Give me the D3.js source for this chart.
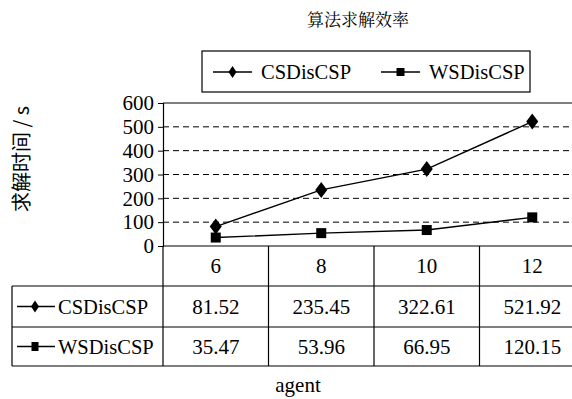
<!DOCTYPE html>
<html><head><meta charset="utf-8">
<script src="https://cdn.jsdelivr.net/npm/d3@7"></script>
<style>body{margin:0;background:#fff}svg{display:block}</style>
</head><body>
<svg id="c" width="572" height="399"></svg>
<script>
const categories = ["6", "8", "10", "12"];
const seriesNames = ["CSDisCSP", "WSDisCSP"];
const csValues = [81.52, 235.45, 322.61, 521.92];
const wsValues = [35.47, 53.96, 66.95, 120.15];
const yTicks = [0, 100, 200, 300, 400, 500, 600];
const titleText = "算法求解效率";
const yLabel = "求解时间 / s";
const xLabel = "agent";

const SERIF = '"Liberation Serif"';
const CJK_SERIF = '"Noto Serif CJK SC"';
const CJK_SANS = '"Noto Sans CJK SC"';
const svg = d3.select("#c");
const sf = (sel, size) => sel.style("font-family", SERIF).style("font-size", size + "px").attr("fill", "#000");

const L = 163, R = 585, T = 103, B = 246;
const x = d3.scaleBand().domain(categories).range([L, R]);
const y = d3.scaleLinear().domain([0, 600]).range([B, T]);

// gridlines
svg.append("g").selectAll("line").data(yTicks.filter(d => d > 0 && d < 600)).join("line")
  .attr("x1", L).attr("x2", 572).attr("y1", d => y(d)).attr("y2", d => y(d))
  .attr("stroke", "#000").attr("stroke-width", 1).attr("stroke-dasharray", "6,4");
// top border
svg.append("line").attr("x1", L).attr("x2", 572).attr("y1", y(600)).attr("y2", y(600)).attr("stroke", "#000").attr("stroke-width", 1.2);

// y axis
const yAxis = svg.append("g").attr("transform", `translate(${L},0)`)
  .call(d3.axisLeft(y).tickValues(yTicks).tickSize(5).tickPadding(4).tickFormat(d3.format("d")));
yAxis.select(".domain").attr("stroke", "#000").attr("stroke-width", 1.2);
sf(yAxis.selectAll("text"), 21);

// series
const series = [
  {name: seriesNames[0], values: csValues, shape: "diamond"},
  {name: seriesNames[1], values: wsValues, shape: "square"}
];
const cx = c => x(c) + x.bandwidth() / 2;
function marker(g, shape, px, py) {
  if (shape === "diamond") {
    g.append("path").attr("d", `M${px},${py-8}L${px+6},${py}L${px},${py+8}L${px-6},${py}Z`).attr("fill", "#000");
  } else {
    g.append("rect").attr("x", px - 5).attr("y", py - 5).attr("width", 10).attr("height", 10).attr("fill", "#000");
  }
}
const line = d3.line().x((d, i) => cx(categories[i])).y(d => y(d));
series.forEach(s => {
  svg.append("path").attr("d", line(s.values)).attr("fill", "none").attr("stroke", "#000").attr("stroke-width", 1.4);
  const g = svg.append("g");
  s.values.forEach((v, i) => marker(g, s.shape, cx(categories[i]), y(v)));
});

// table
const tL = 12, rowY = [246, 286, 327, 366];
const tg = svg.append("g").attr("stroke", "#000").attr("stroke-width", 1.2);
tg.append("line").attr("x1", L).attr("x2", 572).attr("y1", rowY[0]).attr("y2", rowY[0]);
[1, 2, 3].forEach(i => tg.append("line").attr("x1", tL).attr("x2", 572).attr("y1", rowY[i]).attr("y2", rowY[i]));
tg.append("line").attr("x1", tL).attr("x2", tL).attr("y1", rowY[1]).attr("y2", rowY[3]);
tg.append("line").attr("x1", L).attr("x2", L).attr("y1", rowY[0]).attr("y2", rowY[3]);
categories.slice(1).forEach(c => tg.append("line").attr("x1", x(c)).attr("x2", x(c)).attr("y1", rowY[0]).attr("y2", rowY[3]));

sf(svg.append("g").selectAll("text").data(categories).join("text"), 21)
  .attr("x", d => cx(d)).attr("y", (rowY[0] + rowY[1]) / 2 + 7)
  .attr("text-anchor", "middle").text(d => d);
series.forEach((s, si) => {
  const ym = (rowY[si + 1] + rowY[si + 2]) / 2;
  sf(svg.append("g").selectAll("text").data(s.values).join("text"), 21)
    .attr("x", (d, i) => cx(categories[i])).attr("y", ym + 7)
    .attr("text-anchor", "middle").text(d => d.toFixed(2));
  const g = svg.append("g");
  g.append("line").attr("x1", 17).attr("x2", 55).attr("y1", ym).attr("y2", ym).attr("stroke", "#000").attr("stroke-width", 1.4);
  if (s.shape === "diamond") g.append("path").attr("d", `M35,${ym-6}L39,${ym}L35,${ym+6}L31,${ym}Z`).attr("fill", "#000");
  else g.append("rect").attr("x", 31.5).attr("y", ym - 4.5).attr("width", 7).attr("height", 9).attr("fill", "#000");
  sf(g.append("text"), 20.5).attr("x", 58).attr("y", ym + 7).text(s.name);
});

// legend
const lg = svg.append("g");
lg.append("rect").attr("x", 202).attr("y", 51).attr("width", 328).attr("height", 41)
  .attr("fill", "none").attr("stroke", "#000").attr("stroke-width", 1.2);
const legX = [213, 381];
series.forEach((s, i) => {
  const lx = legX[i], ly = 72;
  lg.append("line").attr("x1", lx).attr("x2", lx + 39).attr("y1", ly).attr("y2", ly).attr("stroke", "#000").attr("stroke-width", 1.4);
  if (s.shape === "diamond") lg.append("path").attr("d", `M${lx+19.5},${ly-6}L${lx+23.5},${ly}L${lx+19.5},${ly+6}L${lx+15.5},${ly}Z`).attr("fill", "#000");
  else lg.append("rect").attr("x", lx + 15.5).attr("y", ly - 4).attr("width", 8).attr("height", 8).attr("fill", "#000");
  sf(lg.append("text"), 20.5).attr("x", lx + 48).attr("y", ly + 7).text(s.name);
});

// title & labels
svg.append("text").style("font-family", CJK_SERIF).style("font-size", "17px").attr("x", 358).attr("y", 26).attr("text-anchor", "middle").text(titleText);
svg.append("text").style("font-family", CJK_SANS).style("font-size", "20px").attr("transform", "translate(29,159) rotate(-90)").attr("text-anchor", "middle").text(yLabel);
sf(svg.append("text"), 21).attr("x", 298).attr("y", 392).attr("text-anchor", "middle").text(xLabel);
</script>
</body></html>
